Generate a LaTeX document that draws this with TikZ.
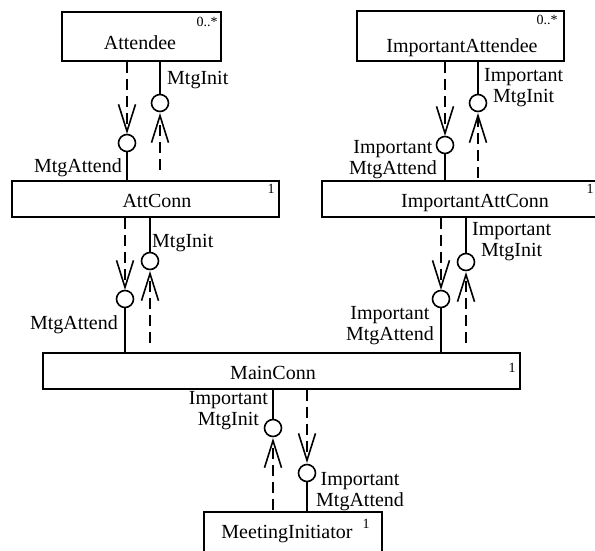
\documentclass[tikz,border=0pt]{standalone}
\usepackage{fontspec}
\setmainfont{Liberation Serif}
\usetikzlibrary{arrows.meta,calc}
\begin{document}
\begin{tikzpicture}[x=1pt,y=-1pt,
  box/.style={draw, line width=2.4pt, inner sep=0pt},
  boxtitle/.style={font=\fontsize{20}{21}\selectfont, inner sep=0pt, anchor=base},
  lbl/.style={font=\fontsize{20}{21}\selectfont, inner sep=0pt, align=center},
  mult/.style={font=\fontsize{14}{14}\selectfont, inner sep=0pt},
  port/.style={draw, circle, line width=1.6pt, minimum size=17pt, inner sep=0pt},
  sline/.style={line width=2pt},
  dline/.style={line width=2pt, dash pattern=on 11pt off 6pt,
    -{Straight Barb[length=27pt,width=17pt,line width=1.6pt]}},
]
\useasboundingbox (0,0) rectangle (595,550);
\clip (0,0) rectangle (595,550);

% boxes
\node[box, minimum width=159pt, minimum height=49pt] (att) at (141.5,36.5) {};
\node[box, minimum width=267pt, minimum height=36pt] (attc) at (145.5,199) {};
\node[box, minimum width=207pt, minimum height=50pt] (ia) at (460.5,36) {};
\node[box, minimum width=283pt, minimum height=36pt] (iac) at (463.5,199) {};
\node[box, minimum width=477pt, minimum height=36pt] (main) at (281.5,371) {};
\node[box, minimum width=178pt, minimum height=48pt] (mi) at (293,536) {};

% box names
\node[boxtitle] (attT) at (140,49) {Attendee};
\node[boxtitle] (attcT) at (157,207) {AttConn};
\node[boxtitle] (iaT) at (462,52) {ImportantAttendee};
\node[boxtitle] (iacT) at (475,207) {ImportantAttConn};
\node[boxtitle] (mainT) at (273,379) {MainConn};
\node[boxtitle] (miT) at (287,538) {MeetingInitiator};

% multiplicities
\node[mult] (attM) at (207,22) {0..*};
\node[mult] (iaM) at (547,20) {0..*};
\node[mult] (attcM) at (271,189) {1};
\node[mult] (iacM) at (590,189) {1};
\node[mult] (mainM) at (512,368) {1};
\node[mult] (miM) at (366,524) {1};

% ports
\node[port] (p1) at (127,143) {};
\node[port] (p2) at (160,103) {};
\node[port] (p3) at (125,299) {};
\node[port] (p4) at (150,261) {};
\node[port] (p5) at (445,145) {};
\node[port] (p6) at (478,103) {};
\node[port] (p7) at (441,299) {};
\node[port] (p8) at (466,262) {};
\node[port] (p9) at (273,428) {};
\node[port] (p10) at (307,473) {};

% arrow tips and dashed ends
\coordinate (t1) at (127,134);
\coordinate (t2) at (160,113);
\coordinate (e2) at (160,170);
\coordinate (t3) at (125,290);
\coordinate (t4) at (150,271);
\coordinate (e4) at (150,343);
\coordinate (t5) at (445,136);
\coordinate (t6) at (478,113);
\coordinate (e6) at (478,178);
\coordinate (t7) at (441,290);
\coordinate (t8) at (466,272);
\coordinate (e8) at (466,343);
\coordinate (t9) at (273,438);
\coordinate (e9) at (273,510);
\coordinate (t10) at (307,463);

% connectors
\draw[dline] (att.south -| t1) -- (t1);
\draw[sline] (p1.south) -- (p1 |- attc.north);
\draw[sline] (att.south -| p2) -- (p2.north);
\draw[dline] (e2) -- (t2);

\draw[dline] (attc.south -| t3) -- (t3);
\draw[sline] (p3.south) -- (p3 |- main.north);
\draw[sline] (attc.south -| p4) -- (p4.north);
\draw[dline] (e4) -- (t4);

\draw[dline] (ia.south -| t5) -- (t5);
\draw[sline] (p5.south) -- (p5 |- iac.north);
\draw[sline] (ia.south -| p6) -- (p6.north);
\draw[dline] (e6) -- (t6);

\draw[dline] (iac.south -| t7) -- (t7);
\draw[sline] (p7.south) -- (p7 |- main.north);
\draw[sline] (iac.south -| p8) -- (p8.north);
\draw[dline] (e8) -- (t8);

\draw[sline] (main.south -| p9) -- (p9.north);
\draw[dline] (e9) -- (t9);
\draw[dline] (main.south -| t10) -- (t10);
\draw[sline] (p10.south) -- (p10 |- mi.north);

% labels
\node[lbl, anchor=base west] (l2) at (167,84) {MtgInit};
\node[lbl, anchor=base east] (l1) at (122,172) {MtgAttend};
\node[lbl, anchor=base west] (l4) at (152,247) {MtgInit};
\node[lbl, anchor=base east] (l3) at (118,329) {MtgAttend};
\node[lbl, anchor=west] (l6) at (484,87.5) {Important\\MtgInit};
\node[lbl, anchor=east] (l5) at (437,160) {Important\\MtgAttend};
\node[lbl, anchor=west] (l8) at (472,241.5) {Important\\MtgInit};
\node[lbl, anchor=east] (l7) at (434,325.5) {Important\\MtgAttend};
\node[lbl, anchor=east] (l9) at (268,411) {Important\\MtgInit};
\node[lbl, anchor=west] (l10) at (316,492) {Important\\MtgAttend};
\end{tikzpicture}
\end{document}
